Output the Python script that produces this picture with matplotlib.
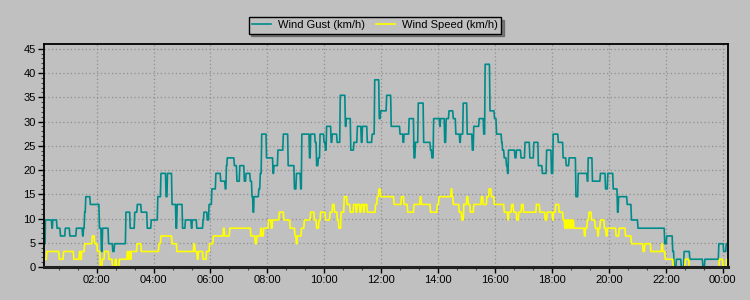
import matplotlib
matplotlib.use("Agg")
import matplotlib.pyplot as plt
from matplotlib.ticker import MultipleLocator, FuncFormatter

plt.rcParams['font.family'] = ['Liberation Sans', 'DejaVu Sans']

# time in hours since midnight, value (km/h) valid from that time on
gust_time = [0.18, 0.20, 0.43, 0.46, 0.61, 0.73, 0.90, 1.06, 1.29, 1.51, 1.54, 1.58, 1.62, 1.78,
             2.10, 2.17, 2.21, 2.42, 2.57, 2.63, 3.03, 3.18, 3.34, 3.43, 3.57, 3.78, 3.92, 4.15,
             4.26, 4.44, 4.49, 4.65, 4.79, 4.83, 5.02, 5.12, 5.33, 5.36, 5.52, 5.74, 5.77, 5.89,
             5.95, 6.05, 6.19, 6.36, 6.52, 6.56, 6.59, 6.84, 6.93, 7.03, 7.19, 7.25, 7.40, 7.46,
             7.50, 7.53, 7.70, 7.75, 7.80, 7.97, 8.20, 8.23, 8.37, 8.56, 8.73, 8.95, 9.02, 9.17,
             9.21, 9.48, 9.52, 9.68, 9.73, 9.79, 9.85, 9.99, 10.04, 10.08, 10.24, 10.28, 10.45,
             10.56, 10.74, 10.77, 10.93, 11.04, 11.16, 11.30, 11.34, 11.51, 11.68, 11.77, 11.93,
             11.98, 12.19, 12.35, 12.66, 12.77, 12.80, 12.98, 13.15, 13.20, 13.30, 13.49, 13.73,
             13.78, 13.84, 14.06, 14.08, 14.23, 14.28, 14.38, 14.53, 14.62, 14.76, 14.79, 14.88,
             15.02, 15.20, 15.25, 15.44, 15.60, 15.65, 15.82, 15.98, 16.05, 16.23, 16.26, 16.32,
             16.40, 16.44, 16.47, 16.70, 16.75, 16.91, 17.05, 17.22, 17.36, 17.52, 17.66, 17.81,
             17.98, 18.04, 18.22, 18.39, 18.50, 18.60, 18.84, 18.92, 19.24, 19.27, 19.42, 19.70,
             19.88, 19.96, 20.15, 20.30, 20.34, 20.64, 20.79, 21.02, 21.96, 22.03, 22.24, 22.29,
             22.37, 22.54, 22.64, 22.84, 23.30, 23.37, 23.86, 24.03, 24.12]
gust_kmh = [4.8, 9.7, 8.0, 9.7, 8.0, 6.4, 8.0, 6.4, 8.0, 6.4, 8.0, 11.3, 14.5, 12.9,
            8.0, 3.2, 8.0, 4.8, 3.2, 4.8, 11.3, 8.0, 11.3, 12.9, 11.3, 8.0, 9.7, 14.5,
            19.3, 14.5, 19.3, 12.9, 8.0, 12.9, 8.0, 9.7, 8.0, 9.7, 8.0, 9.7, 11.3, 9.7,
            12.9, 16.1, 19.3, 17.7, 16.1, 20.9, 22.5, 20.9, 17.7, 20.9, 17.7, 19.3, 17.7, 14.5,
            11.3, 14.5, 16.1, 19.3, 27.4, 22.5, 19.3, 20.9, 24.1, 27.4, 20.9, 16.1, 19.3, 16.1,
            27.4, 22.5, 27.4, 25.7, 20.9, 22.5, 27.4, 25.7, 24.1, 29.0, 25.7, 27.4, 25.7,
            35.4, 29.0, 30.6, 24.1, 25.7, 29.0, 25.7, 29.0, 25.7, 27.4, 38.6, 30.6,
            32.2, 35.4, 29.0, 27.4, 25.7, 27.4, 30.6, 22.5, 25.7, 33.8, 25.7, 24.1,
            22.5, 30.6, 29.0, 30.6, 25.7, 30.6, 32.2, 30.6, 27.4, 25.7, 27.4, 33.8,
            27.4, 24.1, 29.0, 30.6, 27.4, 41.8, 32.2, 30.6, 27.4, 25.7, 24.1, 22.5,
            20.9, 19.3, 24.1, 22.5, 24.1, 22.5, 25.7, 22.5, 25.7, 20.9, 19.3, 24.1,
            19.3, 27.4, 25.7, 22.5, 20.9, 22.5, 14.5, 19.3, 17.7, 22.5, 17.7, 19.3,
            16.1, 19.3, 16.1, 11.3, 14.5, 12.9, 9.7, 8.0, 4.8, 6.4, 3.2, 0.0,
            1.6, 0.0, 3.2, 1.6, 0.0, 1.6, 4.8, 3.2, 4.8]

speed_time = [0.18, 0.25, 0.69, 0.84, 1.20, 1.40, 1.44, 1.48, 1.58, 1.85, 1.93, 2.03, 2.13,
              2.20, 2.28, 2.43, 2.56, 2.66, 2.70, 2.80, 3.08, 3.12, 3.15, 3.19, 3.22, 3.42,
              3.57, 4.19, 4.26, 4.65, 4.82, 5.42, 5.46, 5.54, 5.58, 5.74, 5.86, 5.97, 6.10,
              6.46, 6.50, 6.68, 7.42, 7.58, 7.63, 7.77, 7.80, 7.87, 8.04, 8.14, 8.18, 8.42,
              8.58, 8.80, 8.97, 9.02, 9.05, 9.20, 9.30, 9.52, 9.65, 9.73, 9.81, 9.87, 10.04,
              10.20, 10.29, 10.36, 10.46, 10.51, 10.59, 10.70, 10.80, 10.91, 11.03, 11.12,
              11.15, 11.25, 11.30, 11.38, 11.42, 11.51, 11.80, 11.86, 11.92, 11.98, 12.45,
              12.71, 12.80, 12.93, 13.15, 13.37, 13.41, 13.73, 13.97, 14.03, 14.46, 14.49,
              14.53, 14.74, 14.83, 14.90, 15.01, 15.06, 15.13, 15.25, 15.52, 15.58, 15.71,
              15.79, 15.87, 15.97, 16.32, 16.45, 16.48, 16.58, 16.65, 16.76, 16.83, 16.93,
              17.00, 17.45, 17.57, 17.76, 17.83, 18.02, 18.05, 18.13, 18.25, 18.39, 18.45,
              18.48, 18.52, 18.55, 18.60, 18.63, 18.68, 18.72, 18.77, 19.14, 19.17, 19.24,
              19.30, 19.39, 19.52, 19.61, 19.64, 19.70, 19.84, 19.90, 19.95, 20.25, 20.36,
              20.58, 20.79, 21.20, 21.26, 21.47, 21.86, 21.89, 21.98, 22.26, 22.68, 22.82,
              23.88, 24.01, 24.13]
speed_kmh = [1.6, 3.2, 1.6, 3.2, 1.6, 3.2, 1.6, 3.2, 4.8, 6.4, 4.8, 3.2, 0.0,
             1.6, 3.2, 1.6, 0.0, 1.6, 0.0, 1.6, 3.2, 1.6, 3.2, 1.6, 3.2, 4.8,
             3.2, 4.8, 6.4, 4.8, 3.2, 4.8, 3.2, 1.6, 3.2, 1.6, 3.2, 4.8, 6.4,
             8.0, 6.4, 8.0, 6.4, 4.8, 6.4, 8.0, 6.4, 8.0, 9.7, 8.0, 9.7, 11.3,
             9.7, 8.0, 6.4, 4.8, 6.4, 8.0, 9.7, 11.3, 9.7, 8.0, 9.7, 11.3, 9.7,
             11.3, 12.9, 11.3, 9.7, 8.0, 11.3, 14.5, 12.9, 11.3, 12.9, 11.3,
             12.9, 11.3, 12.9, 11.3, 12.9, 11.3, 12.9, 14.5, 16.1, 14.5, 12.9,
             14.5, 12.9, 11.3, 12.9, 14.5, 12.9, 11.3, 12.9, 14.5, 16.1, 14.5,
             12.9, 11.3, 9.7, 12.9, 14.5, 12.9, 11.3, 12.9, 14.5, 12.9, 14.5,
             16.1, 14.5, 12.9, 11.3, 9.7, 11.3, 12.9, 11.3, 9.7, 11.3, 12.9,
             11.3, 12.9, 11.3, 9.7, 11.3, 9.7, 11.3, 12.9, 11.3, 9.7, 8.0,
             9.7, 8.0, 9.7, 8.0, 9.7, 8.0, 9.7, 8.0, 6.4, 8.0, 9.7,
             11.3, 9.7, 8.0, 6.4, 8.0, 9.7, 8.0, 6.4, 8.0, 6.4, 8.0,
             6.4, 4.8, 3.2, 4.8, 3.2, 4.8, 3.2, 1.6, 0.0, 1.6, 0.0,
             1.6, 0.0, 1.6]

t_end = 24.17


def step_line(t, v, end):
    xs, ys = [], []
    for i in range(len(t)):
        t1 = t[i + 1] if i + 1 < len(t) else end
        gap = min(0.02, (t1 - t[i]) / 2)
        xs += [t[i], t1 - gap]
        ys += [v[i], v[i]]
    return xs, ys


bg = '#c0c0c0'
fig = plt.figure(figsize=(7.5, 3), dpi=100, facecolor=bg)
ax = fig.add_axes([0.059, 0.11, 0.912, 0.742], facecolor=bg)

gx, gy = step_line(gust_time, gust_kmh, t_end)
sx, sy = step_line(speed_time, speed_kmh, t_end)
l1, = ax.plot(gx, gy, color='#008b8b', lw=1.2, label='Wind Gust (km/h)')
l2, = ax.plot(sx, sy, color='#ffff00', lw=1.2, label='Wind Speed (km/h)')

ax.set_xlim(0.16, 24.19)
ax.set_ylim(0, 45.9)

ax.xaxis.set_major_locator(MultipleLocator(2))
ax.xaxis.set_minor_locator(MultipleLocator(2 / 3))
ax.xaxis.set_major_formatter(FuncFormatter(lambda x, p: '%02d:00' % (int(round(x)) % 24)))
ax.yaxis.set_major_locator(MultipleLocator(5))
ax.yaxis.set_minor_locator(MultipleLocator(1))

ax.tick_params(which='major', length=4, width=1, colors='black', labelsize=8, pad=2)
ax.tick_params(which='minor', length=2, width=0.8, colors='#444444')
ax.grid(which='major', color='#909090', linestyle=(0, (1, 2)), linewidth=0.9)

for side in ['top', 'right', 'left']:
    ax.spines[side].set_linewidth(1.3)
    ax.spines[side].set_color('black')
ax.spines['bottom'].set_linewidth(2.2)
ax.spines['bottom'].set_color('#202020')

leg = fig.legend(handles=[l1, l2], loc='upper center', bbox_to_anchor=(0.5, 0.962), ncol=2,
                 fontsize=8, frameon=True, fancybox=False, shadow=True, edgecolor='black',
                 facecolor=bg, framealpha=1, handlelength=1.7, handletextpad=0.65,
                 columnspacing=1.0, borderpad=0.3)
leg.get_frame().set_linewidth(1.0)

fig.savefig('out.png', dpi=100, facecolor=bg)
